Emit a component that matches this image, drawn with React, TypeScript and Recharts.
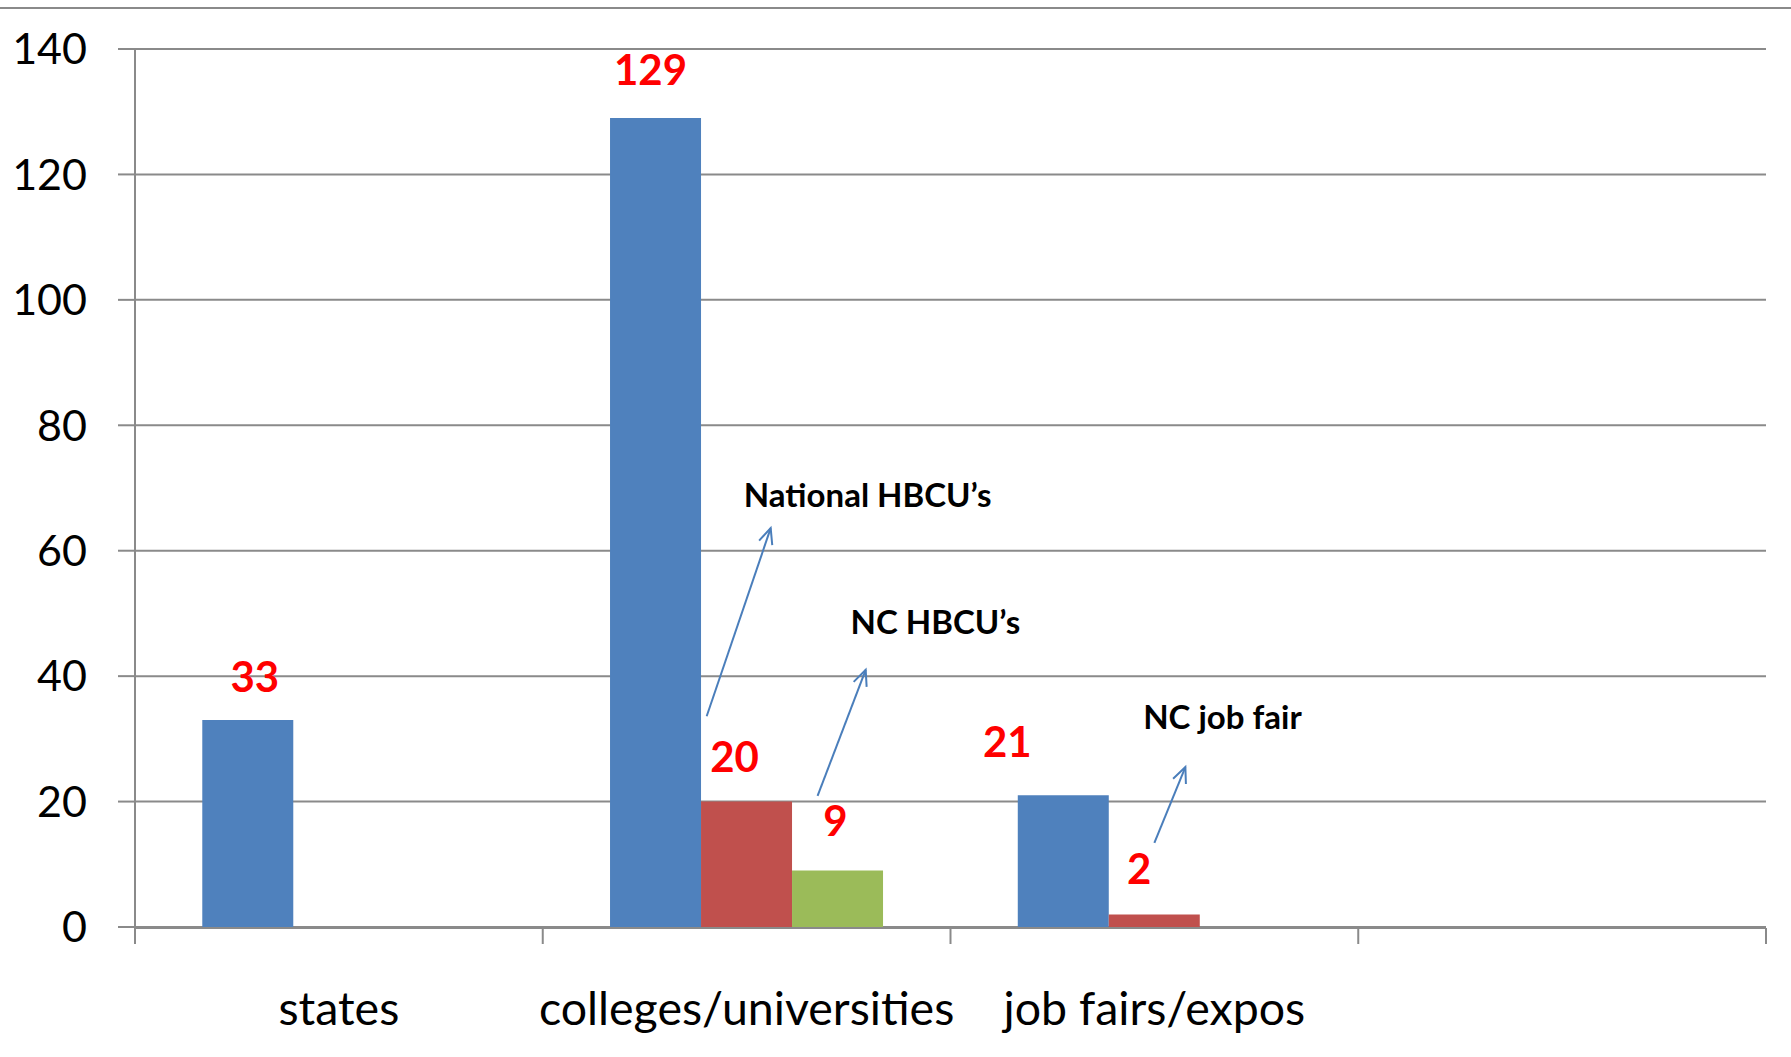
import React from "react";
import {
  BarChart,
  Bar,
  XAxis,
  YAxis,
  CartesianGrid,
  LabelList,
  ReferenceLine,
  ReferenceDot,
} from "recharts";

const categories = ["states", "colleges/universities", "job fairs/expos", ""];
const overall = [33, 129, 21, null];
const hbcuNational = [null, 20, 2, null];
const hbcuNc = [null, 9, null, null];
const yTicks = [0, 20, 40, 60, 80, 100, 120, 140];
const yDomain = [0, 140];
const slotDomain = [0, 4];
const boundaryTicks = [0, 1, 2, 3, 4];

// callout notes; x is in category units (0..4), y in chart values
const calloutText = ["National HBCU\u2019s", "NC HBCU\u2019s", "NC job fair"];
const calloutTextAt = [
  [1.797, 68.9],
  [1.963, 48.6],
  [2.667, 33.5],
];
const calloutArrow = [
  [[1.402, 33.6], [1.559, 63.6]],
  [[1.674, 20.9], [1.792, 41.0]],
  [[2.5, 13.4], [2.576, 25.5]],
];

const seriesValues: Record<string, (number | null)[]> = { overall, hbcuNational, hbcuNc };

// label nudges (px) per series, per category
const nudge: Record<string, number[][]> = {
  overall: [[7, 2], [-5, -3], [-56, -8], [0, 0]],
  hbcuNational: [[0, 0], [-12, 0], [-15, 0], [0, 0]],
  hbcuNc: [[0, 0], [-2, -5], [0, 0], [0, 0]],
};

const data = categories.map((name, i) => ({
  name,
  slot: i + 0.5,
  overall: overall[i],
  hbcuNational: hbcuNational[i],
  hbcuNc: hbcuNc[i],
}));

const FONT = "Lato, 'Open Sans', sans-serif";
const GRID = "#8a8a8a";
const ARROW = "#4a7ebb";
const lineStyle = { stroke: GRID, strokeWidth: 2 };
const catTick = { fill: "#000", fontSize: 46.5, fontFamily: FONT };
const yTick = { fill: "#000", fontSize: 43, fontFamily: FONT };
const blank = () => "";

// LabelList is fed the category name so the nudge can be looked up per category
const valueLabel = (key: string) => (p: any) => {
  const { x, y, width, value } = p;
  const ci = categories.indexOf(String(value));
  const v = ci >= 0 ? seriesValues[key][ci] : null;
  if (v == null) return null;
  const [dx, dy] = nudge[key][ci] || [0, 0];
  return (
    <text
      x={Number(x) + Number(width) / 2 + dx}
      y={Number(y) - 46 + dy}
      textAnchor="middle"
      dominantBaseline="central"
      fill="#ff0000"
      fontSize={42}
      fontWeight={700}
      fontFamily={FONT}
    >
      {v}
    </text>
  );
};

const ArrowShape = (p: any) => {
  const { x1, y1, x2, y2 } = p;
  const ang = Math.atan2(y2 - y1, x2 - x1);
  const L = 17;
  const a = 0.42;
  const ax = x2 - L * Math.cos(ang - a);
  const ay = y2 - L * Math.sin(ang - a);
  const bx = x2 - L * Math.cos(ang + a);
  const by = y2 - L * Math.sin(ang + a);
  return (
    <g>
      <line x1={x1} y1={y1} x2={x2} y2={y2} stroke={ARROW} strokeWidth={2} />
      <polyline
        points={`${ax},${ay} ${x2},${y2} ${bx},${by}`}
        fill="none"
        stroke={ARROW}
        strokeWidth={2}
      />
    </g>
  );
};

export default function App() {
  return (
    <div style={{ position: "absolute", left: 0, top: 0, width: 1791, height: 1057, background: "#fff" }}>
      <div style={{ position: "absolute", left: 0, top: 7, width: 1791, height: 2, background: GRID }} />
      <BarChart
        width={1791}
        height={1057}
        data={data}
        margin={{ top: 49, right: 25, left: 0, bottom: 128 }}
        barCategoryGap="16.5%"
        barGap={0}
      >
        <CartesianGrid xAxisId="cat" vertical={false} stroke={GRID} strokeWidth={2} />
        <XAxis
          xAxisId="num"
          dataKey="slot"
          type="number"
          domain={slotDomain}
          ticks={boundaryTicks}
          allowDataOverflow
          tickFormatter={blank}
          tickSize={16}
          height={1}
          axisLine={lineStyle}
          tickLine={lineStyle}
        />
        <XAxis
          xAxisId="cat"
          dataKey="name"
          interval={0}
          height={1}
          tickLine={false}
          axisLine={false}
          tickMargin={59}
          tick={catTick}
        />
        <YAxis
          domain={yDomain}
          ticks={yTicks}
          width={135}
          tickSize={17}
          tickMargin={31}
          axisLine={lineStyle}
          tickLine={lineStyle}
          tick={yTick}
        />
        <Bar xAxisId="cat" dataKey="overall" fill="#4f81bd" isAnimationActive={false}>
          <LabelList dataKey="name" content={valueLabel("overall")} />
        </Bar>
        <Bar xAxisId="cat" dataKey="hbcuNational" fill="#c0504d" isAnimationActive={false}>
          <LabelList dataKey="name" content={valueLabel("hbcuNational")} />
        </Bar>
        <Bar xAxisId="cat" dataKey="hbcuNc" fill="#9bbb59" isAnimationActive={false}>
          <LabelList dataKey="name" content={valueLabel("hbcuNc")} />
        </Bar>
        {calloutArrow.map((seg, i) => (
          <ReferenceLine
            key={`arrow-${i}`}
            xAxisId="num"
            ifOverflow="visible"
            segment={[
              { x: seg[0][0], y: seg[0][1] },
              { x: seg[1][0], y: seg[1][1] },
            ]}
            shape={ArrowShape}
          />
        ))}
        {calloutText.map((t, i) => (
          <ReferenceDot
            key={`note-${i}`}
            xAxisId="num"
            x={calloutTextAt[i][0]}
            y={calloutTextAt[i][1]}
            r={0}
            fill="none"
            stroke="none"
            ifOverflow="visible"
            label={{
              value: t,
              position: "center",
              fill: "#000",
              fontSize: 33,
              fontWeight: 700,
              fontFamily: FONT,
            }}
          />
        ))}
      </BarChart>
    </div>
  );
}
